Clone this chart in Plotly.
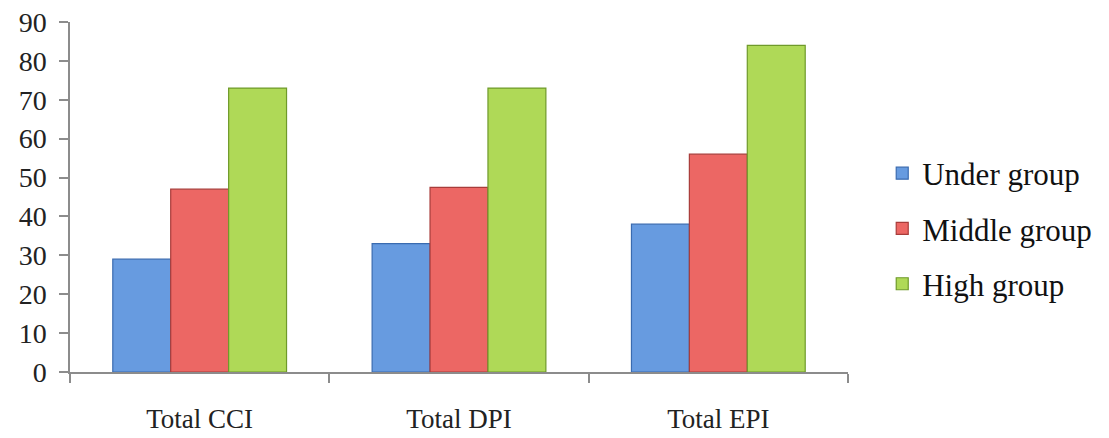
import plotly.graph_objects as go

categories = ["Total CCI", "Total DPI", "Total EPI"]
under_group = [29, 33, 38]
middle_group = [47, 47.5, 56]
high_group = [73, 73, 84]
y_ticks = [0, 10, 20, 30, 40, 50, 60, 70, 80, 90]

series = [
    ("Under group", under_group, "#679be0", "#3a6bb0", "g1"),
    ("Middle group", middle_group, "#ec6764", "#a83c3a", "g2"),
    ("High group", high_group, "#afd957", "#6f9a2a", "g3"),
]

fig = go.Figure()
for name, vals, fill, line, grp in series:
    fig.add_trace(go.Bar(
        x=categories, y=vals, name=name, legendgroup=grp,
        marker=dict(color=fill, line=dict(color=line, width=1.2)),
    ))

# page body has an 8px default margin, so the figure is sized to fit the window
fig.update_layout(
    width=1101, height=430,
    paper_bgcolor="white", plot_bgcolor="white",
    margin=dict(l=62, r=259, t=14, b=66),
    barmode="group", bargap=0.33, bargroupgap=0,
    font=dict(family="Liberation Serif, Times New Roman, serif", color="#222", size=21),
    legend=dict(
        x=1.044, y=0.41, xanchor="left", yanchor="middle",
        font=dict(size=31, family="Liberation Serif, serif", color="#111"),
        tracegroupgap=12, traceorder="grouped",
    ),
    showlegend=True,
)
fig.update_xaxes(
    showline=True, linecolor="#8c8c8c", linewidth=1.5,
    ticks="outside", tickson="boundaries", ticklen=9, tickcolor="#8c8c8c", tickwidth=1.5,
    tickfont=dict(size=27, family="Liberation Serif, serif"),
    ticklabelstandoff=22, showgrid=False, automargin=False,
    ticklabeloverflow="allow",
)
fig.update_yaxes(
    range=[0, 90], tickvals=y_ticks, showline=True, linecolor="#8c8c8c", linewidth=1.5,
    ticks="outside", ticklen=9, tickcolor="#8c8c8c", tickwidth=1.5,
    tickfont=dict(size=28, family="Liberation Serif, serif"),
    showgrid=False, zeroline=False, ticklabelstandoff=7, automargin=False,
    ticklabeloverflow="allow",
)

fig.write_html("out.html")
